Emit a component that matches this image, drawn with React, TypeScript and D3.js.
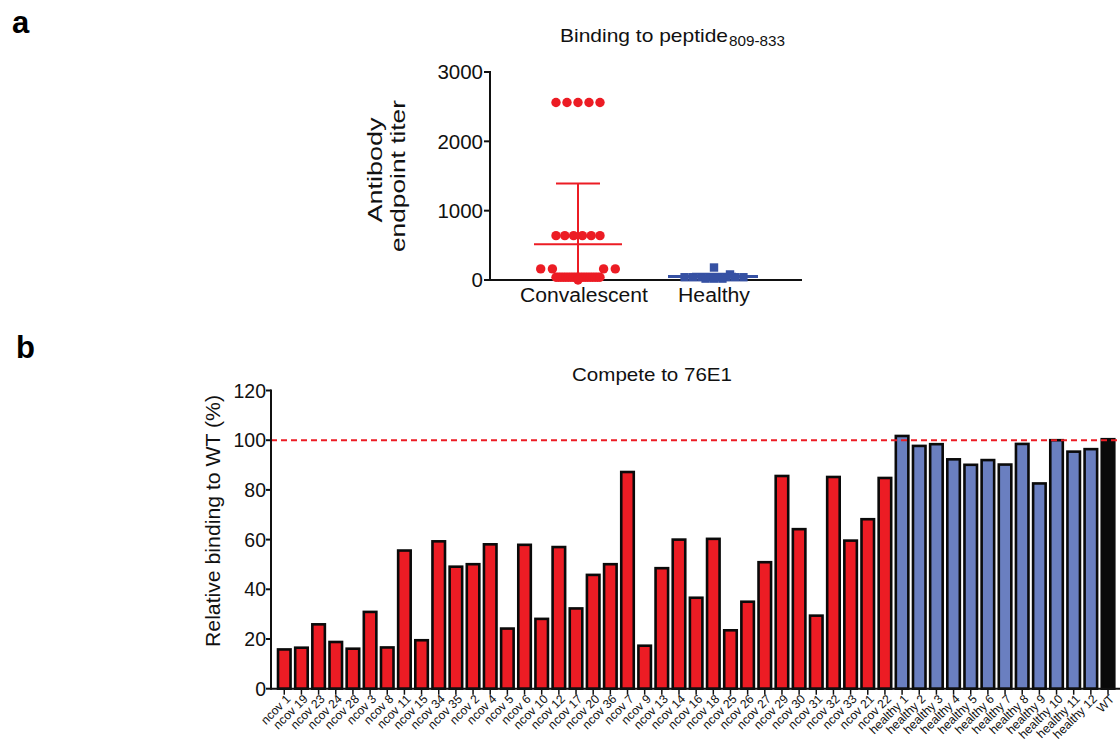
import React from 'react';
import * as d3 from 'd3';

// ---------- Panel a data ----------
const groupsA = ['Convalescent', 'Healthy'];
const convalescentTiter = [
  2560, 2560, 2560, 2560, 2560,
  640, 640, 640, 640, 640, 640,
  160, 160, 160, 160,
  40, 40, 40, 40, 40, 40, 40, 40, 40, 40, 40, 40, 40, 40, 40, 40, 40, 40, 40,
  0,
];
const healthyTiter = [40, 40, 40, 40, 40, 40, 40, 40, 20, 20, 20, 80, 180];
const titerTicks = [0, 1000, 2000, 3000];

// ---------- Panel b data ----------
const ncovLabels = [
  'ncov 1', 'ncov 19', 'ncov 23', 'ncov 24', 'ncov 28', 'ncov 3', 'ncov 8', 'ncov 11', 'ncov 15',
  'ncov 34', 'ncov 35', 'ncov 2', 'ncov 4', 'ncov 5', 'ncov 6', 'ncov 10', 'ncov 12', 'ncov 17',
  'ncov 20', 'ncov 36', 'ncov 7', 'ncov 9', 'ncov 13', 'ncov 14', 'ncov 16', 'ncov 18', 'ncov 25',
  'ncov 26', 'ncov 27', 'ncov 29', 'ncov 30', 'ncov 31', 'ncov 32', 'ncov 33', 'ncov 21', 'ncov 22',
];
const ncovValues = [
  15.8, 16.5, 25.9, 18.8, 16.1, 30.9, 16.6, 55.6, 19.5,
  59.3, 49.1, 50.1, 58.1, 24.2, 57.9, 28.1, 57.0, 32.3,
  45.8, 50.1, 87.2, 17.3, 48.5, 60.0, 36.6, 60.3, 23.5,
  35.0, 50.9, 85.6, 64.2, 29.4, 85.2, 59.6, 68.2, 84.8,
];
const healthyLabels = [
  'healthy 1', 'healthy 2', 'healthy 3', 'healthy 4', 'healthy 5', 'healthy 6',
  'healthy 7', 'healthy 8', 'healthy 9', 'healthy 10', 'healthy 11', 'healthy 12',
];
const healthyValues = [101.7, 97.7, 98.4, 92.3, 90.1, 92.0, 90.2, 98.5, 82.6, 100.0, 95.4, 96.4];
const wtLabels = ['WT'];
const wtValues = [100.4];
const percentTicks = [0, 20, 40, 60, 80, 100, 120];
const referenceLine = 100;

const FONT = "'Liberation Sans', Arial, Helvetica, sans-serif";
const RED = '#ec1c24';
const DARKBLUE = '#3651a3';
const BARBLUE = '#6a7fc0';
const INK = '#111';

type Placed = { dx: number; y: number };

function swarm(values: number[], yPix: (v: number) => number, sp: number, maxW: number, size: number, square: boolean): number[] {
  const groups = d3.groups(values.map((v, i) => ({ v, i })), (d) => d.v)
    .sort((a, b) => b[1].length - a[1].length || a[0] - b[0]);
  const out = new Array(values.length).fill(0);
  const placed: Placed[] = [];
  const thr = 0.4 * size;
  const collide = (dx: number, y: number) =>
    placed.some((p) => {
      const dyy = Math.abs(p.y - y);
      if (dyy < thr) return false;
      if (square) return Math.abs(dx - p.dx) < size * 0.9 && dyy < size * 0.9;
      return Math.hypot(dx - p.dx, dyy) < size;
    });
  for (const [v, items] of groups) {
    const n = items.length;
    const s = n > 1 ? Math.min(sp, maxW / (n - 1)) : sp;
    const base = items.map((_, k) => (k - (n - 1) / 2) * s);
    const y = yPix(v);
    let offs = base;
    for (let g = 0; g < 120; g += 0.25) {
      const cand = base.map((o) => (o === 0 ? g : o + Math.sign(o) * g));
      if (cand.every((o) => !collide(o, y))) { offs = cand; break; }
    }
    items.forEach((it, k) => { out[it.i] = offs[k]; });
    offs.forEach((o) => placed.push({ dx: o, y }));
  }
  return out;
}

function PanelA() {
  const y = d3.scaleLinear().domain([0, 3000]).range([280, 72]);
  const x = d3.scalePoint<string>().domain(groupsA).range([490, 802]).padding(0.647);
  const axisX0 = 490, axisX1 = 802;
  const cx0 = x('Convalescent')!;
  const cx1 = x('Healthy')!;
  const offC = swarm(convalescentTiter, y, 11.7, 44, 9.0, false);
  const offH = swarm(healthyTiter, y, 8.4, 60, 8.4, true);
  const meanC = d3.mean(convalescentTiter)!;
  const sdC = d3.deviation(convalescentTiter)!;
  const meanH = d3.mean(healthyTiter)!;
  const sdH = d3.deviation(healthyTiter)!;
  const sq = 8.4;
  const catLen: Record<string, number> = { Convalescent: 128, Healthy: 72 };
  const catShift: Record<string, number> = { Convalescent: 6, Healthy: 0 };
  return (
    <g fontFamily={FONT}>
      <text x={12} y={33} fontSize={31} fontWeight="bold">a</text>
      <text x={560} y={42} fontSize={19} fill={INK} textLength={168} lengthAdjust="spacingAndGlyphs">Binding to peptide</text>
      <text x={729} y={46} fontSize={14.5} fill={INK} textLength={56} lengthAdjust="spacingAndGlyphs">809-833</text>
      {/* y label */}
      <text transform={`translate(382,170) rotate(-90)`} textAnchor="middle" fontSize={20} fill={INK}
        textLength={105} lengthAdjust="spacingAndGlyphs">Antibody</text>
      <text transform={`translate(405,176) rotate(-90)`} textAnchor="middle" fontSize={20} fill={INK}
        textLength={152} lengthAdjust="spacingAndGlyphs">endpoint titer</text>
      {/* axes */}
      <line x1={axisX0} x2={axisX0} y1={y(3000) - 1} y2={y(0) + 1} stroke={INK} strokeWidth={2} />
      <line x1={axisX0} x2={axisX1} y1={y(0)} y2={y(0)} stroke={INK} strokeWidth={2} />
      {titerTicks.map((t) => (
        <g key={t}>
          <line x1={axisX0 - 6} x2={axisX0} y1={y(t)} y2={y(t)} stroke={INK} strokeWidth={2} />
          <text x={axisX0 - 7} y={y(t)} dy="0.36em" textAnchor="end" fontSize={20.5} fill={INK}>{t}</text>
        </g>
      ))}
      {groupsA.map((g) => (
        <text key={g} x={x(g)! + catShift[g]} y={302} textAnchor="middle" fontSize={19.5} fill={INK}
          textLength={catLen[g]} lengthAdjust="spacingAndGlyphs">{g}</text>
      ))}
      {/* points */}
      {convalescentTiter.map((v, i) => (
        <circle key={'c' + i} cx={cx0 + offC[i]} cy={y(v)} r={4.7} fill={RED} />
      ))}
      {healthyTiter.map((v, i) => (
        <rect key={'h' + i} x={cx1 + offH[i] - sq / 2} y={y(v) - sq / 2} width={sq} height={sq} fill={DARKBLUE} />
      ))}
      {/* mean & SD */}
      <line x1={cx0 - 44} x2={cx0 + 44} y1={y(meanC)} y2={y(meanC)} stroke={RED} strokeWidth={2} />
      <line x1={cx0} x2={cx0} y1={y(meanC + sdC)} y2={y(Math.max(0, meanC - sdC))} stroke={RED} strokeWidth={2} />
      <line x1={cx0 - 22} x2={cx0 + 22} y1={y(meanC + sdC)} y2={y(meanC + sdC)} stroke={RED} strokeWidth={2} />
      <line x1={cx1 - 46} x2={cx1 + 44} y1={y(meanH)} y2={y(meanH)} stroke={DARKBLUE} strokeWidth={3} />
      <line x1={cx1} x2={cx1} y1={y(meanH + sdH)} y2={y(Math.max(0, meanH - sdH))} stroke={DARKBLUE} strokeWidth={2} />
      <line x1={cx1 - 22} x2={cx1 + 22} y1={y(meanH + sdH)} y2={y(meanH + sdH)} stroke={DARKBLUE} strokeWidth={2} />
    </g>
  );
}

function PanelB() {
  const labels = [...ncovLabels, ...healthyLabels, ...wtLabels];
  const values = [...ncovValues, ...healthyValues, ...wtValues];
  const colors = [
    ...ncovLabels.map(() => RED),
    ...healthyLabels.map(() => BARBLUE),
    ...wtLabels.map(() => '#0a0a0a'),
  ];
  const axisX = 271;
  const y = d3.scaleLinear().domain([0, 120]).range([688.7, 390.5]);
  const x = d3.scaleBand<string>().domain(labels).range([275.7, 1116.6]).paddingInner(0.27).paddingOuter(0.135);
  const bw = x.bandwidth();
  return (
    <g fontFamily={FONT}>
      <text x={16} y={358} fontSize={31} fontWeight="bold">b</text>
      <text x={572} y={381} fontSize={18.5} fill={INK} textLength={160} lengthAdjust="spacingAndGlyphs">Compete to 76E1</text>
      <text transform={`translate(220,521) rotate(-90)`} textAnchor="middle" fontSize={19.5} fill={INK}
        textLength={252} lengthAdjust="spacingAndGlyphs">Relative binding to WT (%)</text>
      {/* bars */}
      {labels.map((l, i) => (
        <rect key={l} x={x(l)!} y={y(values[i])} width={bw} height={y(0) - y(values[i])}
          fill={colors[i]} stroke="#0a0a0a" strokeWidth={2.6} />
      ))}
      {/* reference line */}
      <line x1={axisX} x2={1120} y1={y(referenceLine)} y2={y(referenceLine)} stroke={RED} strokeWidth={2} strokeDasharray="6,4" />
      {/* axes */}
      <line x1={axisX} x2={axisX} y1={y(120) - 1} y2={y(0) + 1} stroke={INK} strokeWidth={2} />
      <line x1={axisX} x2={1120} y1={y(0)} y2={y(0)} stroke={INK} strokeWidth={2} />
      {percentTicks.map((t) => (
        <g key={t}>
          <line x1={axisX - 5} x2={axisX} y1={y(t)} y2={y(t)} stroke={INK} strokeWidth={2} />
          <text x={axisX - 5} y={y(t)} dy="0.36em" textAnchor="end" fontSize={19.5} fill={INK}>{t}</text>
        </g>
      ))}
      {labels.map((l) => {
        const cx = x(l)! + bw / 2;
        return (
          <g key={'t' + l}>
            <line x1={cx} x2={cx} y1={y(0)} y2={y(0) + 6} stroke={INK} strokeWidth={1.5} />
            <text transform={`translate(${cx + 4},${y(0) + 8}) rotate(-45)`} textAnchor="end" dy="0.35em" fontSize={12.2} fill={INK}>{l}</text>
          </g>
        );
      })}
    </g>
  );
}

export default function App() {
  return (
    <svg width={1120} height={741} style={{ position: 'absolute', left: 0, top: 0, background: '#fff' }}>
      <rect width={1120} height={741} fill="#fff" />
      <PanelA />
      <PanelB />
    </svg>
  );
}
